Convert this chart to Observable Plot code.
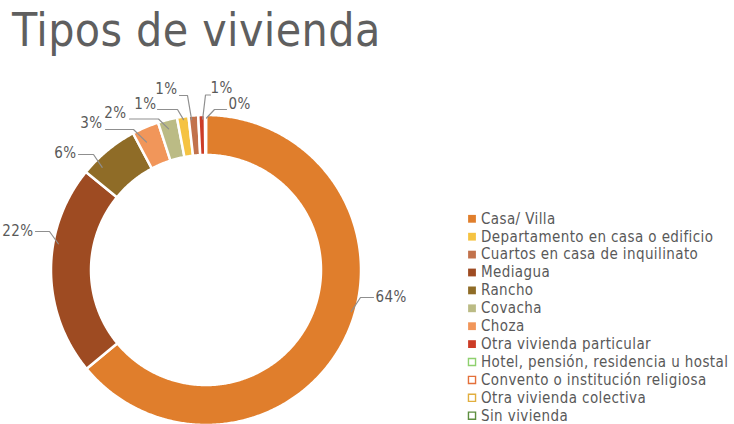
<!DOCTYPE html>
<html>
<head>
<meta charset="utf-8">
<script src="https://cdn.jsdelivr.net/npm/d3@7"></script>
<script src="https://cdn.jsdelivr.net/npm/@observablehq/plot@0.6"></script>
<style>
  html, body { margin: 0; padding: 0; background: #fff; }
  body { width: 734px; height: 424px; overflow: hidden; }
  #title {
    height: 60px; line-height: 60px; margin: 0; padding-left: 12px;
    font-family: "Liberation Sans Narrow", "DejaVu Sans Condensed", "Roboto", sans-serif;
    font-stretch: condensed; font-size: 46px; color: #5f5f5f; letter-spacing: 0.4px;
    white-space: nowrap;
  }
  #chart svg text { letter-spacing: 0.4px; font-stretch: condensed; }
</style>
</head>
<body>
<div id="title">Tipos de vivienda</div>
<div id="chart"></div>
<script>
// ---------- data ----------
const categories = [
  "Casa/ Villa",
  "Departamento en casa o edificio",
  "Cuartos en casa de inquilinato",
  "Mediagua",
  "Rancho",
  "Covacha",
  "Choza",
  "Otra vivienda particular",
  "Hotel, pensión, residencia u hostal",
  "Convento o institución religiosa",
  "Otra vivienda colectiva",
  "Sin vivienda"
];
const shares = [64.0, 1.2, 1.0, 21.9, 6.3, 2.0, 2.8, 0.7, 0.1, 0, 0, 0];
// order of slices clockwise from 12 o'clock, as drawn in the reference
const sliceOrder = [
  "Casa/ Villa", "Mediagua", "Rancho", "Choza", "Covacha",
  "Departamento en casa o edificio", "Cuartos en casa de inquilinato",
  "Otra vivienda particular", "Hotel, pensión, residencia u hostal"
];
const colors = [
  "#E07E2C", "#F5C342", "#C2724C", "#9E4B22", "#8F6C27", "#BBBB85",
  "#F1965A", "#CC3C26", "#8ED06E", "#E4703A", "#E1AE3E", "#5D8E3F"
];
const hollow = [false, false, false, false, false, false, false, false, true, true, true, true];

// ---------- layout (page pixels) ----------
const W = 734, TOP = 60, H = 424 - TOP;
const cx = 205.5, cy = 269.5 - TOP, rOuter = 155, rInner = 115;
const font = '"Liberation Sans Narrow", "DejaVu Sans Condensed", Roboto, sans-serif';
const labelLayout = {
  "Casa/ Villa": {f: 0.46, r: 151, elbow: [360, 297], end: [373, 297], anchor: "start"},
  "Mediagua": {f: 0.63, r: 150, elbow: [49, 231], end: [35, 231], anchor: "end"},
  "Rancho": {f: 0.24, r: 146, elbow: [93, 154], end: [78, 154], anchor: "end", ty: 153},
  "Choza": {f: 0.31, r: 141, elbow: [133, 129], end: [105, 129], anchor: "end", ty: 123, tx: 102},
  "Covacha": {f: 0.44, r: 146, elbow: [158, 118.5], end: [129, 118.5], anchor: "end", ty: 112.5, tx: 126},
  "Departamento en casa o edificio": {f: 0.53, r: 152, elbow: [177, 109], end: [157, 109], anchor: "end", ty: 104, tx: 156},
  "Cuartos en casa de inquilinato": {f: 0.28, r: 151, elbow: [187, 95], end: [179, 95], anchor: "end", ty: 89, tx: 177},
  "Otra vivienda particular": {f: 0.64, r: 151, elbow: [205, 94.5], end: [210, 94.5], anchor: "start", ty: 88, tx: 210},
  "Hotel, pensión, residencia u hostal": {f: 1.5, r: 152, elbow: [214, 109], end: [226, 109], anchor: "start", ty: 104, tx: 228}
};
const legendX = 471.5, legendY0 = 218.3, legendStep = 17.9;

// ---------- derived geometry ----------
const shareOf = Object.fromEntries(categories.map((c, i) => [c, shares[i]]));
const total = d3.sum(sliceOrder, c => shareOf[c]);
const slices = [];
let acc = 0;
for (const name of sliceOrder) {
  const a0 = acc / total * 360;
  acc += shareOf[name];
  const a1 = acc / total * 360;
  slices.push({name, a0, a1, value: shareOf[name]});
}
const pol = (deg, r) => {
  const t = deg * Math.PI / 180;
  return [cx + r * Math.sin(t), cy - r * Math.cos(t)];
};
const arcPoints = [];
for (const s of slices) {
  const n = Math.max(2, Math.ceil((s.a1 - s.a0) / 0.5));
  const pts = [];
  for (let k = 0; k <= n; k++) pts.push(pol(s.a0 + (s.a1 - s.a0) * k / n, rOuter));
  for (let k = n; k >= 0; k--) pts.push(pol(s.a0 + (s.a1 - s.a0) * k / n, rInner));
  pts.forEach(([x, y]) => arcPoints.push({name: s.name, x, y}));
}
const leaderPts = [];
const labels = [];
for (const s of slices) {
  const L = labelLayout[s.name];
  if (!L) continue;
  const anchorPt = pol(s.a0 + (s.a1 - s.a0) * L.f, L.r);
  leaderPts.push({name: s.name, x: anchorPt[0], y: anchorPt[1]});
  leaderPts.push({name: s.name, x: L.elbow[0], y: L.elbow[1] - TOP});
  leaderPts.push({name: s.name, x: L.end[0], y: L.end[1] - TOP});
  const tx = L.tx !== undefined ? L.tx : (L.anchor === "start" ? L.end[0] + 2 : L.end[0] - 2);
  const ty = (L.ty !== undefined ? L.ty : L.end[1]) - TOP;
  labels.push({name: s.name, x: tx, y: ty, anchor: L.anchor, text: Math.round(s.value) + "%"});
}
const legend = categories.map((c, i) => ({name: c, hollow: hollow[i], x: legendX, y: legendY0 + i * legendStep - TOP}));

// ---------- chart ----------
const chart = Plot.plot({
  width: W, height: H,
  margin: 0,
  x: {domain: [0, W], range: [0, W], axis: null},
  y: {domain: [0, H], range: [0, H], axis: null},
  color: {type: "ordinal", domain: categories, range: colors},
  style: {fontFamily: font, background: "white"},
  marks: [
    Plot.line(arcPoints, {x: "x", y: "y", z: "name", fill: "name", stroke: "white", strokeWidth: 2.5, curve: "linear-closed"}),
    Plot.line(leaderPts, {x: "x", y: "y", z: "name", stroke: "#8f8f8f", strokeWidth: 1.2}),
    Plot.text(labels.filter(d => d.anchor === "start"), {x: "x", y: "y", text: "text", textAnchor: "start", fontSize: 15, fill: "#595959"}),
    Plot.text(labels.filter(d => d.anchor === "end"), {x: "x", y: "y", text: "text", textAnchor: "end", fontSize: 15, fill: "#595959"}),
    Plot.dot(legend.filter(d => !d.hollow), {x: "x", y: "y", symbol: "square", r: 4.4, fill: "name", stroke: null}),
    Plot.dot(legend.filter(d => d.hollow), {x: "x", y: "y", symbol: "square", r: 4.0, fill: "white", stroke: "name", strokeWidth: 1.4}),
    Plot.text(legend, {x: d => d.x + 9, y: "y", text: "name", textAnchor: "start", fontSize: 15, fill: "#595959"})
  ]
});
document.getElementById("chart").appendChild(chart);
</script>
</body>
</html>
